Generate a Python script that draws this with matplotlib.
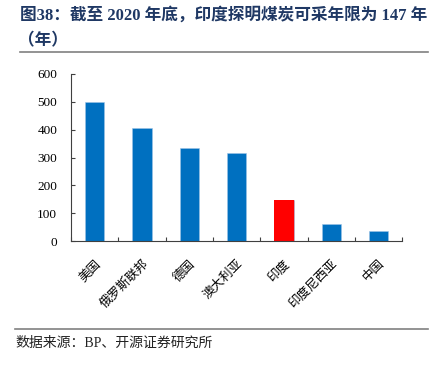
import matplotlib
matplotlib.use('Agg')
import matplotlib.pyplot as plt
import numpy as np

# data
countries = ['美国', '俄罗斯联邦', '德国', '澳大利亚', '印度', '印度尼西亚', '中国']
years = [500, 407, 334, 315, 147, 62, 37]
colors = ['#0070C0', '#0070C0', '#0070C0', '#0070C0', '#FF0000', '#0070C0', '#0070C0']

title_line1 = '图38：截至 2020 年底，印度探明煤炭可采年限为 147 年'
title_line2 = '（年）'
source = '数据来源：BP、开源证券研究所'

fams = ['Liberation Serif', 'Noto Sans CJK SC']
plt.rcParams['font.family'] = fams

fig = plt.figure(figsize=(4.39, 3.68), dpi=100)
ax = fig.add_axes([0.162, 0.345, 0.754, 0.454])

x = np.arange(len(countries))
ax.bar(x, years, width=0.41, color=colors, edgecolor='#9DC3E6', linewidth=0.4)
ax.bar(x[4], years[4], width=0.41, color=colors[4], linewidth=0)

ax.set_xlim(-0.5, len(countries) - 0.5)
ax.set_ylim(0, 600)
ax.set_yticks(range(0, 601, 100))
ax.tick_params(axis='y', direction='in', length=3, labelsize=9.5, pad=10,
               colors='#404040', labelcolor='black', width=0.8)
ax.set_xticks(x)
ax.set_xticklabels(countries, rotation=45, ha='right', rotation_mode='anchor', fontsize=9)
ax.tick_params(axis='x', length=0, pad=12)
ax.set_xticks(np.arange(-0.5, len(countries), 1), minor=True)
ax.tick_params(axis='x', which='minor', direction='in', length=3, color='#404040', width=0.8)

for s in ['top', 'right']:
    ax.spines[s].set_visible(False)
ax.spines['left'].set_color('#404040')
ax.spines['bottom'].set_color('#404040')

fig.text(0.045, 0.959, title_line1, fontsize=12, fontweight='bold', color='#1F3864', va='center', family=fams)
fig.text(0.040, 0.889, title_line2, fontsize=12, fontweight='bold', color='#1F3864', va='center', family=fams)
fig.add_artist(plt.Line2D([0.045, 0.975], [0.859, 0.859], color='#808080', linewidth=1.2))
fig.add_artist(plt.Line2D([0.034, 0.975], [0.106, 0.106], color='#808080', linewidth=1.2))
fig.text(0.036, 0.068, source, fontsize=10, color='#222222', va='center', family=fams)

fig.savefig('out.png', dpi=100)
